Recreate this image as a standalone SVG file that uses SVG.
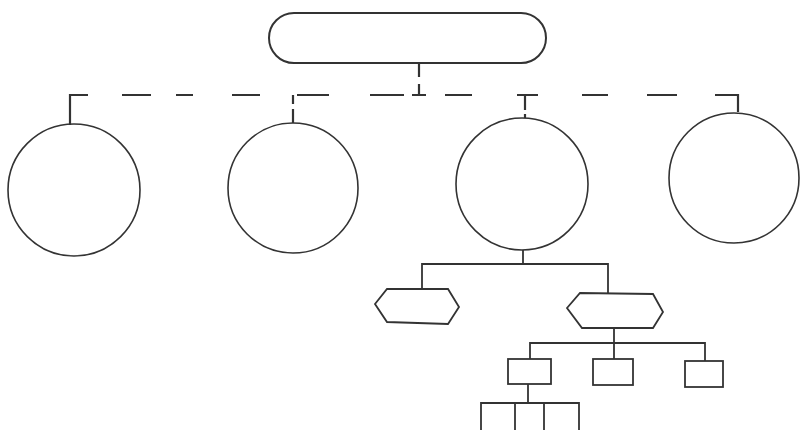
<svg xmlns="http://www.w3.org/2000/svg" width="800" height="430" viewBox="0 0 800 430">
<style>
.n{fill:none;stroke:#333333;stroke-width:1.6}
.t{fill:none;stroke:#333333;stroke-width:2}
.c{fill:none;stroke:#333333;stroke-width:1.8}
.d{fill:none;stroke:#333333;stroke-width:2.2}
</style>
<rect width="800" height="430" fill="#ffffff"/>
<g id="connectors">
<path class="d" d="M419 63V77M419 84V95M412 95H426M70 125V95H88M122 95H151M176 95H193M232 95H260M293 123V109M293 104V95M297 95H329M370 95H404M445 95H472M517 95H538M525 95V110M525 114V118M582 95H608M647 95H677M715 95H738V112"/>
<path class="c" d="M523 250V264M422 289V264H608V293M614 328V343M530 359V343H705V361M614 343V359M528 384V403M481 430V403H579V430M515 403V430M544 403V430"/>
</g>
<g id="root"><rect class="t" x="269" y="13" width="277" height="50" rx="25"/></g>
<g id="circle1"><circle class="n" cx="74" cy="190" r="66"/></g>
<g id="circle2"><circle class="n" cx="293" cy="188" r="65"/></g>
<g id="circle3"><circle class="n" cx="522" cy="184" r="66"/></g>
<g id="circle4"><circle class="n" cx="734" cy="178" r="65"/></g>
<g id="hex1"><polygon class="c" points="375,304 387,289 448,289 459,307 448,324 387,322"/></g>
<g id="hex2"><polygon class="c" points="567,308 580,293 653,294 663,312 653,328 582,328"/></g>
<g id="box1"><rect class="c" x="508" y="359" width="43" height="25"/></g>
<g id="box2"><rect class="c" x="593" y="359" width="40" height="26"/></g>
<g id="box3"><rect class="c" x="685" y="361" width="38" height="26"/></g>
</svg>
